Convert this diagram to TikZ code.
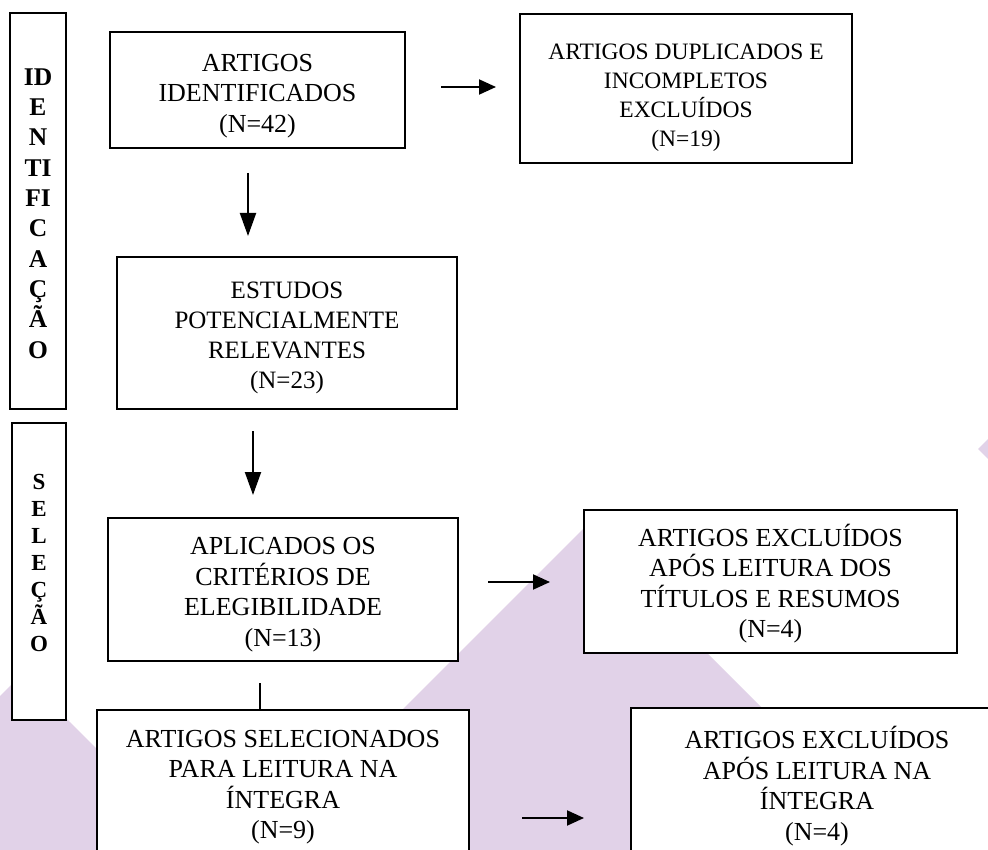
\documentclass[tikz,border=0pt]{standalone}
\usepackage{fontspec}
\setmainfont{Liberation Serif}
\usetikzlibrary{arrows.meta}
\definecolor{lilac}{RGB}{225,210,232}
% width, height, top gap, lines: text block set from the top of its box
\newcommand{\boxtext}[4]{\parbox[c][#2pt][t]{#1pt}{\centering\vspace*{#3pt}\rule{0pt}{25pt}#4\par}}
\tikzset{
  stage/.style={draw=black, line width=2pt, fill=white, inner sep=0pt,
    font=\fontsize{26}{30.5}\selectfont},
  phase/.style={draw=black, line width=2pt, fill=white, inner sep=0pt},
  flow/.style={line width=2pt, -{Triangle[length=17pt,width=15pt]}},
  downflow/.style={line width=2pt, -{Triangle[length=23pt,width=16pt]}},
  plain/.style={line width=2pt}
}
\begin{document}
\begin{tikzpicture}[x=1pt, y=-1pt]
\useasboundingbox (0,0) rectangle (988,850);
\clip (0,0) rectangle (988,850);
\fill[white] (0,0) rectangle (988,850);

% background decoration
\fill[lilac] (583,529) -- (924,870) -- (242,870) -- cycle;
\fill[lilac] (22,674) -- (218,870) -- (-10,870) -- (-10,706) -- cycle;
\fill[lilac] (978,449) -- (995,432) -- (995,466) -- cycle;

% phase labels
\node[phase, font=\fontsize{25.5}{30.3}\selectfont\bfseries] (idf) at (38,211)
  {\boxtext{56}{396}{47.4}{ID\\E\\N\\TI\\FI\\C\\A\\Ç\\Ã\\O}};
\node[phase, font=\fontsize{23}{27}\selectfont\bfseries] (sel) at (39,571.5)
  {\boxtext{54}{297}{41.6}{S\\E\\L\\E\\Ç\\Ã\\O}};

% flow boxes
\node[stage] (b1) at (257.5,90)
  {\boxtext{295}{116}{14.1}{ARTIGOS\\IDENTIFICADOS\\(N=42)}};
\node[stage, font=\fontsize{23.5}{29}\selectfont] (b2) at (686,88.5)
  {\boxtext{332}{149}{20.8}{ARTIGOS DUPLICADOS E\\INCOMPLETOS\\EXCLUÍDOS\\(N=19)}};
\node[stage, font=\fontsize{25}{30}\selectfont] (b4) at (287,333)
  {\boxtext{340}{152}{16.3}{ESTUDOS\\POTENCIALMENTE\\RELEVANTES\\(N=23)}};
\node[stage] (b6) at (283,589.5)
  {\boxtext{350}{143}{11.6}{APLICADOS OS\\CRITÉRIOS DE\\ELEGIBILIDADE\\(N=13)}};
\node[stage] (b8) at (770.5,581.5)
  {\boxtext{373}{143}{11.1}{ARTIGOS EXCLUÍDOS\\APÓS LEITURA DOS\\TÍTULOS E RESUMOS\\(N=4)}};
\node[stage] (b10) at (283,790)
  {\boxtext{372}{160}{12.1}{ARTIGOS SELECIONADOS\\PARA LEITURA NA\\ÍNTEGRA\\(N=9)}};
\node[stage] (b12) at (817,789)
  {\boxtext{372}{162}{15.6}{ARTIGOS EXCLUÍDOS\\APÓS LEITURA NA\\ÍNTEGRA\\(N=4)}};

% connectors
\draw[flow, shorten <=35pt, shorten >=23pt]
  ([yshift=3pt]b1.east) -- ([yshift=3pt]b1.east -| b2.west);
\draw[downflow, shorten <=24pt, shorten >=20pt]
  ([xshift=-9.5pt]b1.south) -- ([xshift=-9.5pt]b1.south |- b4.north);
\draw[downflow, shorten <=21pt, shorten >=22pt]
  ([xshift=-34pt]b4.south) -- ([xshift=-34pt]b4.south |- b6.north);
\draw[flow, shorten <=29pt, shorten >=33pt]
  ([yshift=7.5pt]b6.east) -- ([yshift=7.5pt]b6.east -| b8.west);
\draw[plain, shorten <=21pt]
  ([xshift=-23pt]b6.south) -- ([xshift=-23pt]b6.south |- b10.north);
\draw[flow, shorten <=52pt, shorten >=46pt]
  ([yshift=-28pt]b10.east) -- ([yshift=-28pt]b10.east -| b12.west);
\end{tikzpicture}
\end{document}
